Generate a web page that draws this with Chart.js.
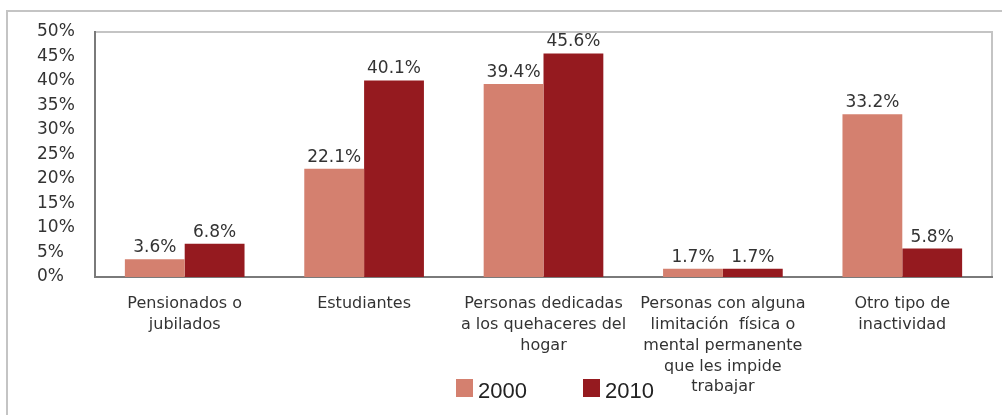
<!DOCTYPE html>
<html>
<head>
<meta charset="utf-8">
<script src="https://cdn.jsdelivr.net/npm/chart.js@4"></script>
<style>
  html, body { margin: 0; padding: 0; background: #fff; }
  #wrap { width: 1002px; height: 415px; position: relative; }
</style>
</head>
<body>
<div id="wrap"><canvas id="c" width="1002" height="415"></canvas></div>
<script>
const categories = [
  ["Pensionados o", "jubilados"],
  "Estudiantes",
  ["Personas dedicadas", "a los quehaceres del", "hogar"],
  ["Personas con alguna", "limitación  física o", "mental permanente", "que les impide", "trabajar"],
  ["Otro tipo de", "inactividad"]
];
const seriesNames = ["2000", "2010"];
const values2000 = [3.6, 22.1, 39.4, 1.7, 33.2];
const values2010 = [6.8, 40.1, 45.6, 1.7, 5.8];
const yTicks = [0, 5, 10, 15, 20, 25, 30, 35, 40, 45, 50];

const colors = ["#D4806F", "#951A1F"];
const FONT = "'DejaVu Sans', sans-serif";

const framePlugin = {
  id: 'frame',
  beforeDraw(chart) {
    const ctx = chart.ctx;
    ctx.save();
    ctx.fillStyle = '#fff';
    ctx.fillRect(0, 0, chart.width, chart.height);
    ctx.strokeStyle = '#c4c4c4';
    ctx.lineWidth = 2;
    ctx.beginPath();
    ctx.moveTo(7, chart.height);
    ctx.lineTo(7, 11);
    ctx.lineTo(chart.width, 11);
    ctx.stroke();
    const a = chart.chartArea;
    ctx.beginPath();
    ctx.moveTo(a.left, a.top);
    ctx.lineTo(a.right, a.top);
    ctx.lineTo(a.right, a.bottom);
    ctx.stroke();
    ctx.restore();
  }
};

const valueLabelPlugin = {
  id: 'valueLabels',
  afterDatasetsDraw(chart) {
    const ctx = chart.ctx;
    ctx.save();
    ctx.font = "17px " + FONT;
    ctx.fillStyle = '#333';
    ctx.textAlign = 'center';
    ctx.textBaseline = 'bottom';
    chart.data.datasets.forEach((ds, i) => {
      const meta = chart.getDatasetMeta(i);
      meta.data.forEach((el, j) => {
        ctx.fillText(ds.data[j].toFixed(1) + '%', el.x, el.y - 3);
      });
    });
    ctx.restore();
  }
};

const legendPlugin = {
  id: 'customLegend',
  afterDraw(chart) {
    const ctx = chart.ctx;
    ctx.save();
    ctx.font = "22px 'Liberation Sans', Arial, sans-serif";
    ctx.textBaseline = 'middle';
    ctx.textAlign = 'left';
    const starts = [456, 583];
    chart.data.datasets.forEach((ds, i) => {
      const x = starts[i];
      ctx.fillStyle = ds.backgroundColor;
      ctx.fillRect(x, 379, 17, 18);
      ctx.fillStyle = '#222';
      ctx.fillText(ds.label, x + 22, 392);
    });
    ctx.restore();
  }
};

new Chart(document.getElementById('c'), {
  type: 'bar',
  data: {
    labels: categories,
    datasets: [
      { label: seriesNames[0], data: values2000, backgroundColor: colors[0], borderWidth: 0 },
      { label: seriesNames[1], data: values2010, backgroundColor: colors[1], borderWidth: 0 }
    ]
  },
  options: {
    responsive: false,
    animation: false,
    devicePixelRatio: 1,
    layout: { padding: { left: 37, right: 10, top: 32, bottom: 0 } },
    datasets: { bar: { categoryPercentage: 0.667, barPercentage: 1.0 } },
    plugins: { legend: { display: false }, tooltip: { enabled: false } },
    scales: {
      x: {
        grid: { display: false, drawTicks: false },
        border: { display: true, color: '#7a7a7a', width: 2 },
        ticks: {
          autoSkip: false, maxRotation: 0, minRotation: 0,
          padding: 16, color: '#333',
          font: { family: FONT, size: 16, lineHeight: 1.31 }
        },
        afterFit(s) { s.height = 138; }
      },
      y: {
        min: 0, max: 50,
        afterBuildTicks(s) { s.ticks = yTicks.map(v => ({ value: v })); },
        grid: { display: false, drawTicks: false },
        border: { display: true, color: '#7a7a7a', width: 2 },
        ticks: {
          crossAlign: 'far', color: '#333',
          font: { family: FONT, size: 17 },
          callback: v => v + '%'
        },
        afterFit(s) { s.width = 58; }
      }
    }
  },
  plugins: [framePlugin, valueLabelPlugin, legendPlugin]
});
</script>
</body>
</html>
